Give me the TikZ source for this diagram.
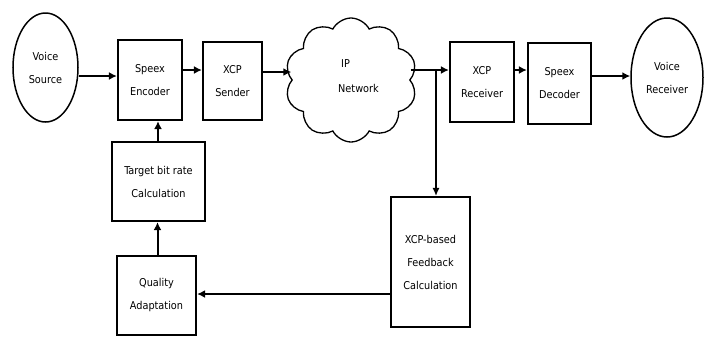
\documentclass[tikz,border=0pt]{standalone}
\usepackage{fontspec}
\setmainfont{DejaVu Sans Condensed}
\usetikzlibrary{arrows.meta,shapes.symbols,shapes.geometric}
\begin{document}
\begin{tikzpicture}[x=1pt,y=-1pt,
  txt/.style={font=\fontsize{10.8}{23}\selectfont, align=center, inner sep=0pt},
  blk/.style={txt, draw, line width=2.2pt, rectangle},
  oval/.style={txt, draw, line width=1.5pt, ellipse},
  arr/.style={line width=2pt, -{Latex[length=8pt,width=8pt]}},
  thin/.style={line width=1.3pt, -{Latex[length=8pt,width=7pt]}}]
\path[use as bounding box] (0,0) rectangle (718,338);
\node[oval, minimum width=65, minimum height=109] (src) at (45.5,67.5) {Voice\\Source};
\node[blk, minimum width=64, minimum height=80] (enc) at (150,80) {Speex\\Encoder};
\node[blk, minimum width=59, minimum height=78] (snd) at (232.5,81) {XCP\\Sender};
\node[cloud, cloud puffs=10, cloud puff arc=125, aspect=1.05, draw, line width=1.3pt,
      minimum width=132, minimum height=124, inner sep=0pt] (net) at (351,80) {};
\node[txt, align=left, font=\fontsize{10.8}{25}\selectfont] (nettxt) at (358.5,76) {\hspace{3pt}IP\\Network};
\node[blk, minimum width=64, minimum height=80] (rcv) at (482,82) {XCP\\Receiver};
\node[blk, minimum width=63, minimum height=81] (dec) at (559.5,83.5) {Speex\\Decoder};
\node[oval, minimum width=72, minimum height=119] (dst) at (667,77.5) {Voice\\Receiver};
\node[blk, minimum width=93, minimum height=79] (tgt) at (158.5,181.5) {Target bit rate\\Calculation};
\node[blk, minimum width=79, minimum height=79] (qa) at (156.5,295.5) {Quality\\Adaptation};
\node[blk, minimum width=79, minimum height=130] (fb) at (430.5,262) {XCP-based\\Feedback\\Calculation};
\coordinate (br) at (436,70);
\draw[arr] (src.east |- 0,76) -- (enc.west |- 0,76);
\draw[arr] (enc.east |- 0,70) -- (snd.west |- 0,70);
\draw[arr] (snd.east |- 0,72) -- (net.west |- 0,72);
\draw[arr] (net.east |- 0,70) -- (rcv.west |- 0,70);
\draw[arr] (rcv.east |- 0,70) -- (dec.west |- 0,70);
\draw[arr] (dec.east |- 0,76) -- (dst.west |- 0,76);
\draw[thin] (br) -- (br |- fb.north);
\draw[arr] (fb.west |- 0,294) -- (qa.east |- 0,294);
\draw[arr] (qa.north -| 157.5,0) -- (tgt.south -| 157.5,0);
\draw[arr] (tgt.north -| 158,0) -- (enc.south -| 158,0);
\end{tikzpicture}
\end{document}
